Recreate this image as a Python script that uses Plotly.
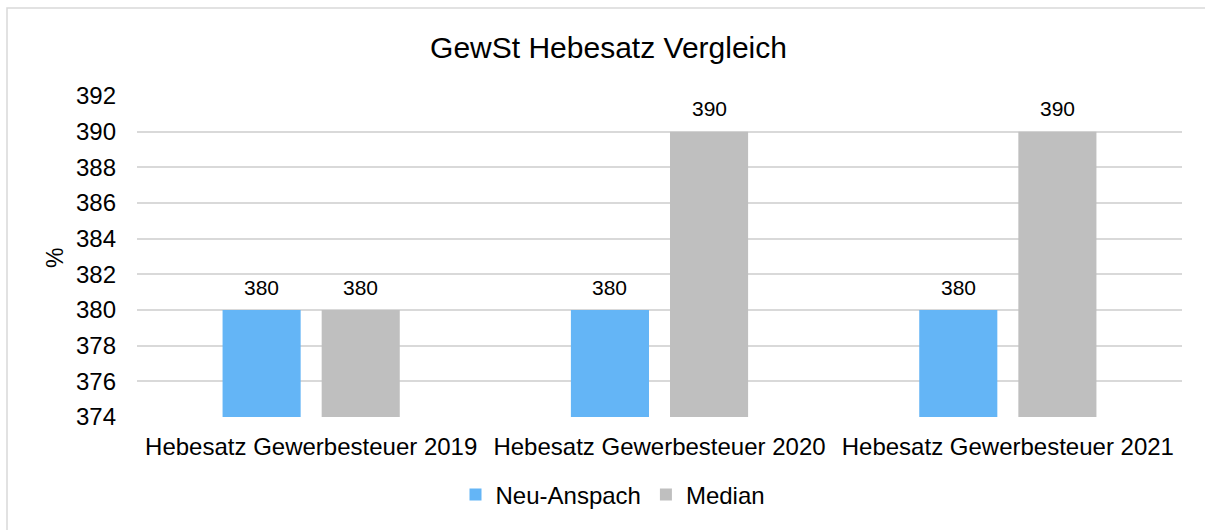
import plotly.graph_objects as go

# Data
categories = ["Hebesatz Gewerbesteuer 2019", "Hebesatz Gewerbesteuer 2020", "Hebesatz Gewerbesteuer 2021"]
neu_anspach = [380, 380, 380]
median = [380, 390, 390]
y_ticks = [374, 376, 378, 380, 382, 384, 386, 388, 390, 392]

BLUE = "#64B5F6"
GRAY = "#BFBFBF"
GRID = "#D9D9D9"
FONT = "Liberation Sans, Arial, sans-serif"

# Figure geometry (pixels)
FIG_W, FIG_H = 1205, 530
M_L, M_R, M_T, M_B = 137, 23, 96, 113
PLOT_W = FIG_W - M_L - M_R
PLOT_H = FIG_H - M_T - M_B

fig = go.Figure()
fig.add_trace(go.Bar(name="Neu-Anspach", x=categories, y=neu_anspach,
                     marker=dict(color=BLUE, line=dict(width=0))))
fig.add_trace(go.Bar(name="Median", x=categories, y=median,
                     marker=dict(color=GRAY, line=dict(width=0))))

# Value labels above each bar
slot = PLOT_W / len(categories) * (1 - 0.431) / 2
for series, sign in ((neu_anspach, -1), (median, 1)):
    for cat, val in zip(categories, series):
        fig.add_annotation(x=cat, y=val, text=str(val), showarrow=False,
                           xref="x", yref="y", xshift=sign * slot / 2, yshift=23,
                           font=dict(family=FONT, size=21, color="#000000"))

# Axis title
fig.add_annotation(text="%", textangle=-90, showarrow=False,
                   xref="paper", yref="paper",
                   x=(55 - M_L) / PLOT_W, y=(FIG_H - M_B - 258) / PLOT_H,
                   xanchor="center", yanchor="middle",
                   font=dict(family=FONT, size=23, color="#000000"))

# Chart frame (only the left and top edges fall inside the figure)
fig.add_shape(type="rect", xref="paper", yref="paper",
              x0=(7 - M_L) / PLOT_W, x1=1.5,
              y0=-1.0, y1=1 + (M_T - 8) / PLOT_H,
              line=dict(color=GRID, width=1.5), fillcolor="rgba(0,0,0,0)", layer="below")

fig.update_layout(
    width=FIG_W, height=FIG_H,
    margin=dict(l=M_L, r=M_R, t=M_T, b=M_B),
    paper_bgcolor="white", plot_bgcolor="white",
    barmode="group", bargap=0.431, bargroupgap=0.212,
    font=dict(family=FONT, size=24, color="#000000"),
    title=dict(text="GewSt Hebesatz Vergleich", x=0.505, xanchor="center",
               y=1 - 47 / FIG_H, yanchor="middle", yref="container",
               font=dict(family=FONT, size=30, color="#000000")),
    showlegend=True,
    legend=dict(orientation="h", x=(613 - M_L) / PLOT_W, xanchor="center",
                y=-(495 - (FIG_H - M_B)) / PLOT_H, yanchor="middle",
                font=dict(family=FONT, size=24, color="#000000"),
                itemwidth=30, traceorder="normal"),
    xaxis=dict(showgrid=False, showline=False, ticks="", ticklabelstandoff=13,
               tickfont=dict(family=FONT, size=24, color="#000000")),
    yaxis=dict(range=[374, 392], tickvals=y_ticks, showgrid=True, gridcolor=GRID,
               gridwidth=1.5, zeroline=False, showline=False, ticks="",
               ticklabelstandoff=20,
               tickfont=dict(family=FONT, size=24, color="#000000")),
)

fig.write_html("out.html")
